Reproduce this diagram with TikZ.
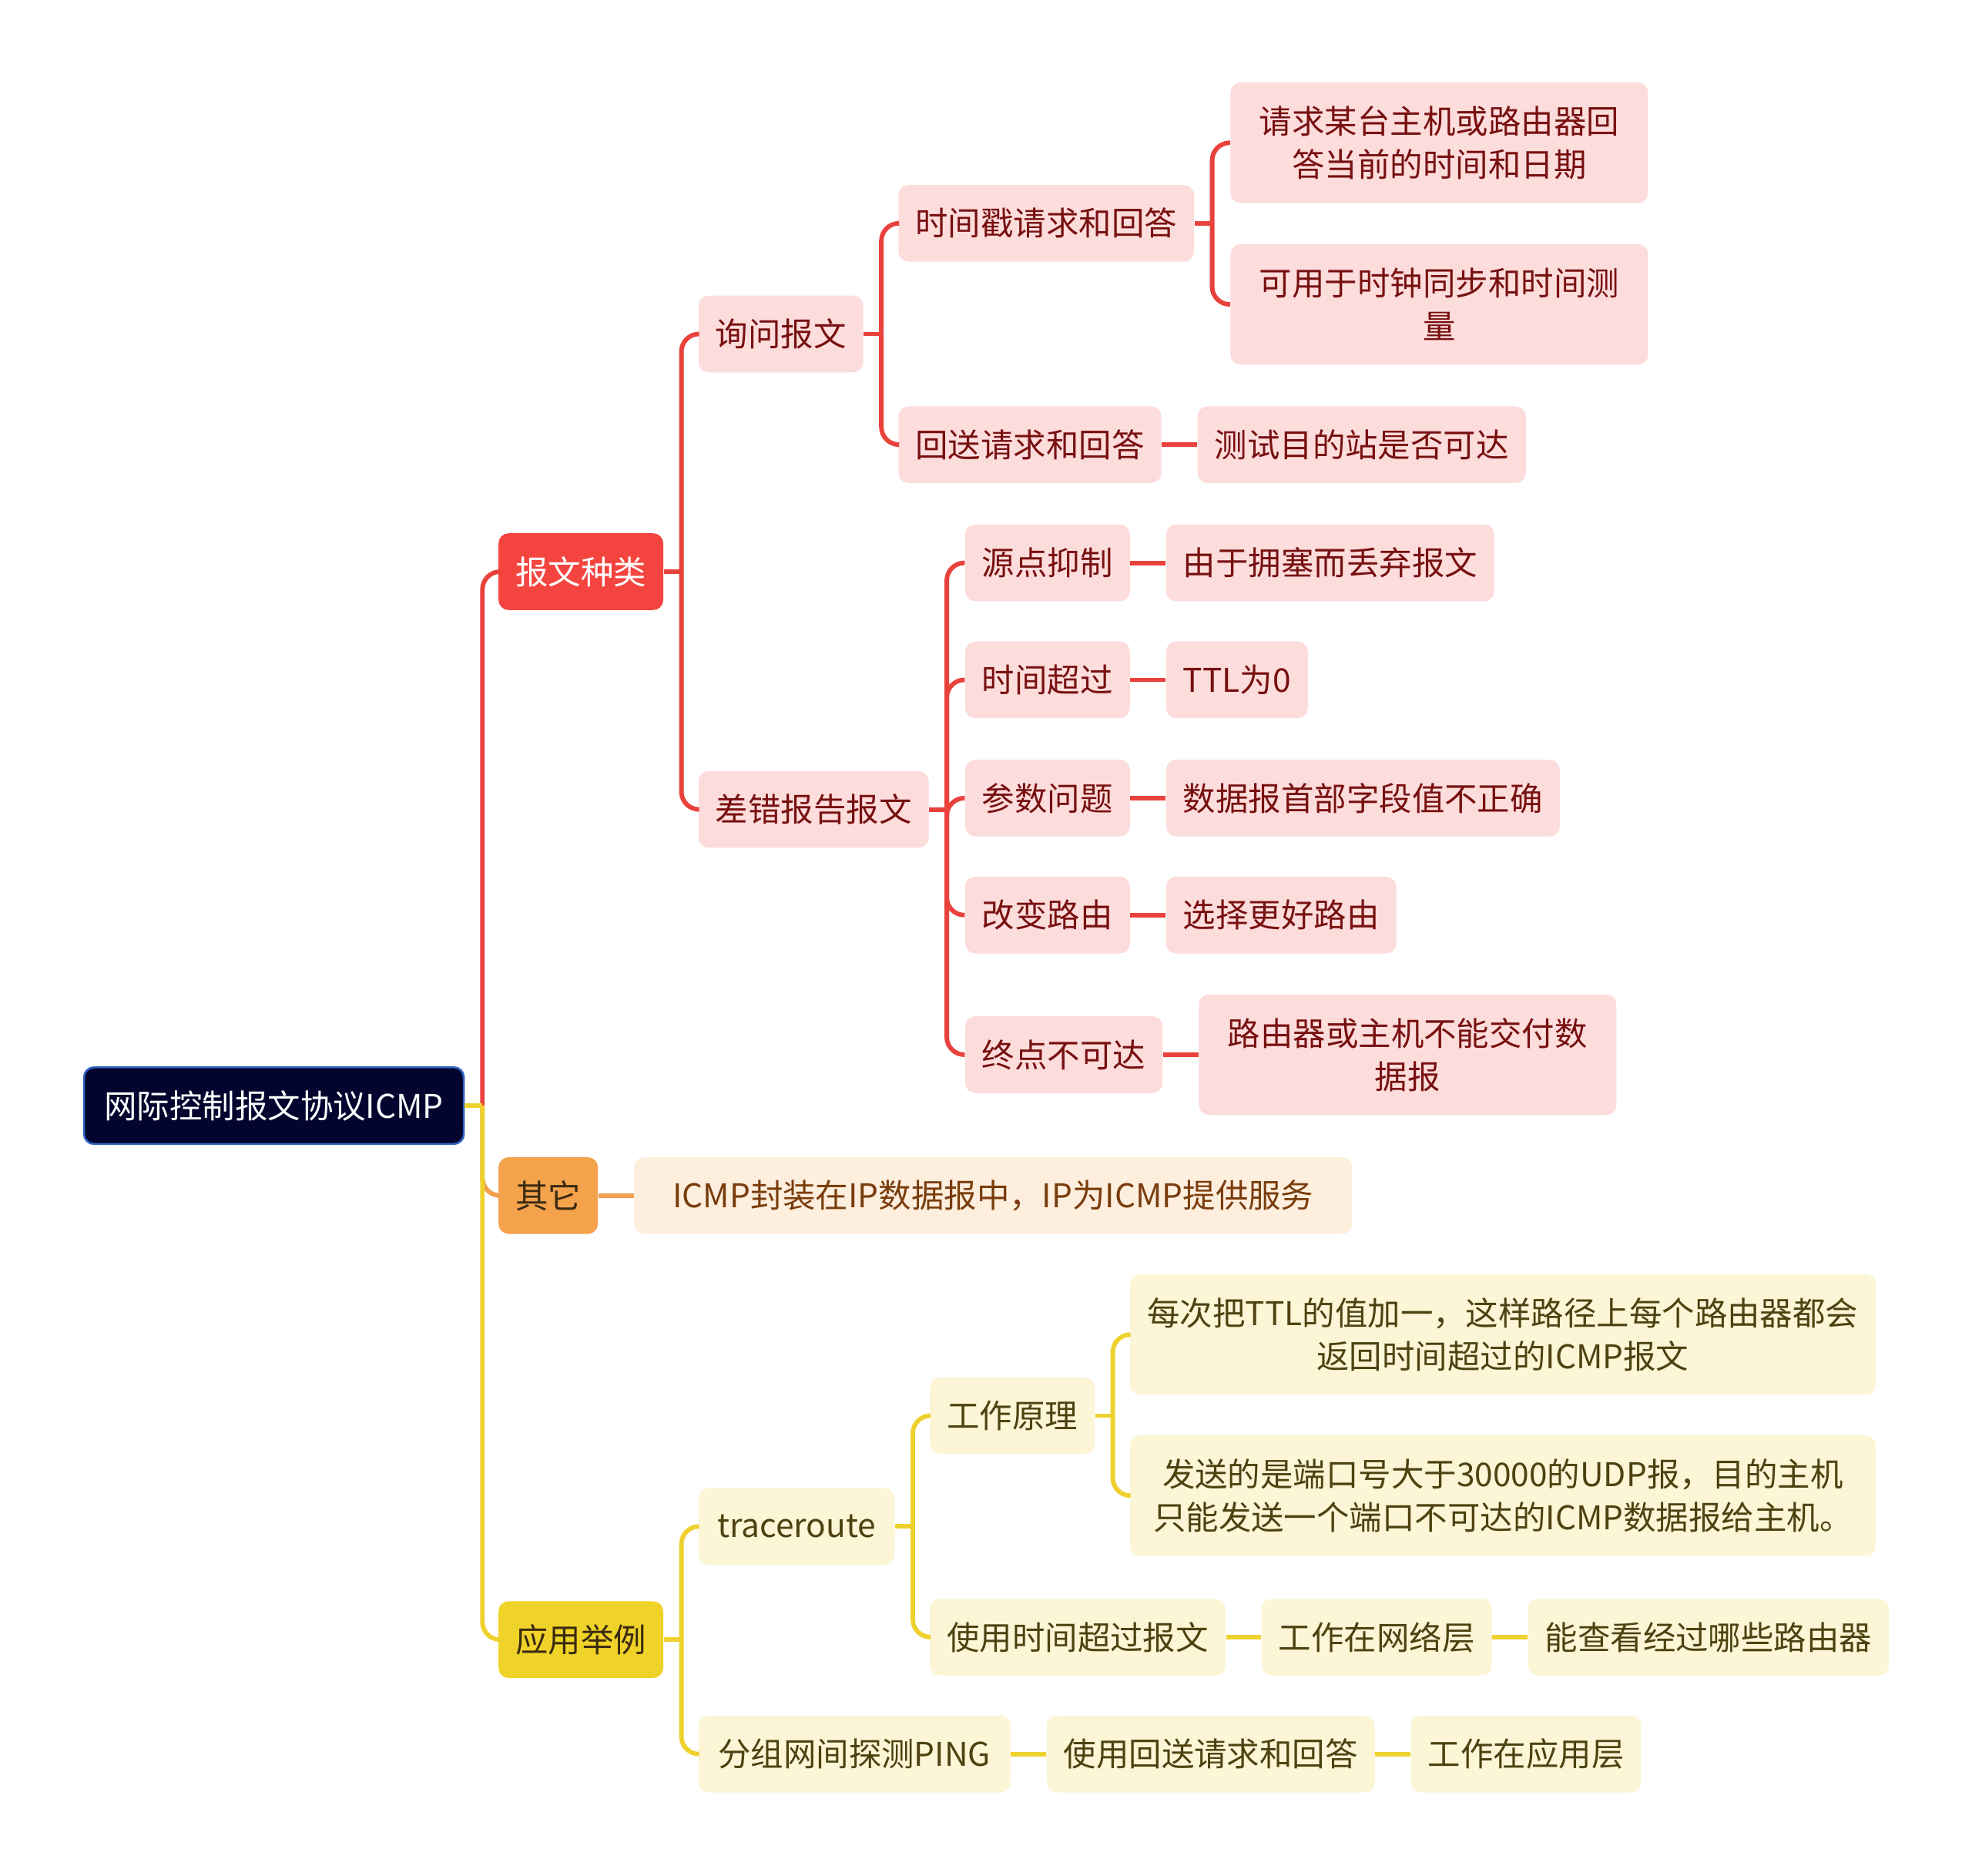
\documentclass[tikz,border=0pt]{standalone}
\usepackage{fontspec}
\setmainfont{Noto Sans CJK SC}
\usepackage{tikz}
\usetikzlibrary{positioning}
\definecolor{Navy}{HTML}{03052E}
\definecolor{NavyLine}{HTML}{2F62C0}
\definecolor{Red}{HTML}{F4443F}
\definecolor{RedLine}{HTML}{E9413C}
\definecolor{PaleRed}{HTML}{FDDCDC}
\definecolor{RedText}{HTML}{781010}
\definecolor{Orange}{HTML}{F4A24C}
\definecolor{OrangeLine}{HTML}{F2A04E}
\definecolor{PaleOrange}{HTML}{FDEEDD}
\definecolor{OrangeText}{HTML}{7A3C0C}
\definecolor{Yellow}{HTML}{F0D328}
\definecolor{YellowLine}{HTML}{EFD12E}
\definecolor{PaleYellow}{HTML}{FCF5D6}
\definecolor{YellowText}{HTML}{4D4210}
\definecolor{DarkText}{HTML}{3A2A10}
\tikzset{
  box/.style={rounded corners=4pt,minimum height=30.5pt,inner xsep=6.75pt,inner ysep=2pt,
    align=center,font=\fontsize{13pt}{17pt}\selectfont},
  rootbox/.style={box,fill=Navy,draw=NavyLine,line width=0.8pt,text=white},
  redmain/.style={box,fill=Red,text=white},
  redleaf/.style={box,fill=PaleRed,text=RedText},
  orangemain/.style={box,fill=Orange,text=DarkText},
  orangeleaf/.style={box,fill=PaleOrange,text=OrangeText},
  yellowmain/.style={box,fill=Yellow,text=DarkText},
  yellowleaf/.style={box,fill=PaleYellow,text=YellowText},
  tall/.style={minimum height=48pt},
  redlink/.style={draw=RedLine,line width=1.8pt,rounded corners=7pt},
  orangelink/.style={draw=OrangeLine,line width=1.8pt,rounded corners=7pt},
  yellowlink/.style={draw=YellowLine,line width=1.8pt,rounded corners=7pt}
}
\begin{document}
\begin{tikzpicture}[x=0.5pt,y=-0.5pt,node distance=14pt]
  \useasboundingbox (0,0) rectangle (1568,1491);
  % root and main branches
  \node[rootbox,anchor=west,minimum width=151pt] (root) at (66,879) {网际控制报文协议ICMP};
  \node[redmain,anchor=west] (baowen) at (396,454.5) {报文种类};
  \node[orangemain,anchor=west] (qita) at (396,950.5) {其它};
  \node[yellowmain,anchor=west] (yingyong) at (396,1303.5) {应用举例};

  % 报文种类
  \node[redleaf,anchor=west] (xunwen) at (555,265.5) {询问报文};
  \node[redleaf,anchor=west] (chacuo) at (555,643.5) {差错报告报文};
  \node[redleaf,anchor=west] (shijianchuo) at (714,177.5) {时间戳请求和回答};
  \node[redleaf,anchor=west] (huisong) at (714,353.5) {回送请求和回答};
  \node[redleaf,tall,anchor=west,minimum width=166pt] (qingqiu) at (978,113.5) {请求某台主机或路由器回\\答当前的时间和日期};
  \node[redleaf,tall,anchor=west,minimum width=166pt] (keyong) at (978,242) {可用于时钟同步和时间测\\量};
  \node[redleaf,right=of huisong] (ceshi) {测试目的站是否可达};
  \node[redleaf,anchor=west] (yuandian) at (767,447.5) {源点抑制};
  \node[redleaf,anchor=west] (chaoguo) at (767,540.5) {时间超过};
  \node[redleaf,anchor=west] (canshu) at (767,634.5) {参数问题};
  \node[redleaf,anchor=west] (gaibian) at (767,727.5) {改变路由};
  \node[redleaf,anchor=west] (zhongdian) at (767,838.5) {终点不可达};
  \node[redleaf,right=of yuandian] (yongse) {由于拥塞而丢弃报文};
  \node[redleaf,right=of chaoguo,minimum width=55.5pt] (ttl) {TTL为0};
  \node[redleaf,right=of canshu] (shoubu) {数据报首部字段值不正确};
  \node[redleaf,right=of gaibian] (genghao) {选择更好路由};
  \node[redleaf,tall,right=of zhongdian,minimum width=166pt] (jiaofu) {路由器或主机不能交付数\\据报};

  % 其它
  \node[orangeleaf,right=of qita,minimum width=285.5pt] (fengzhuang) {ICMP封装在IP数据报中，IP为ICMP提供服务};

  % 应用举例
  \node[yellowleaf,anchor=west,minimum width=78pt] (trace) at (555,1213.5) {traceroute};
  \node[yellowleaf,anchor=west,minimum width=124pt] (ping) at (555,1394.5) {分组网间探测PING};
  \node[yellowleaf,anchor=west] (yuanli) at (739,1125.5) {工作原理};
  \node[yellowleaf,anchor=west] (shiyong) at (739,1301.5) {使用时间超过报文};
  \node[yellowleaf,tall,anchor=west,minimum width=296.5pt,inner xsep=3pt] (meici) at (898,1061) {每次把TTL的值加一，这样路径上每个路由器都会\\返回时间超过的ICMP报文};
  \node[yellowleaf,tall,anchor=west,minimum width=296.5pt,inner xsep=3pt] (fasong) at (898,1189) {发送的是端口号大于30000的UDP报，目的主机\\只能发送一个端口不可达的ICMP数据报给主机。};
  \node[yellowleaf,right=of shiyong] (wangluo) {工作在网络层};
  \node[yellowleaf,right=of wangluo] (chakan) {能查看经过哪些路由器};
  \node[yellowleaf,right=of ping] (huida) {使用回送请求和回答};
  \node[yellowleaf,right=of huida] (yingyongceng) {工作在应用层};

  % connectors
  \draw[redlink] ([xshift=7pt]root.east) |- (baowen.west);
  \draw[orangelink] ([xshift=7pt]root.east) |- (qita.west);
  \draw[yellowlink] ([xshift=7pt]root.east) |- (yingyong.west);
  \draw[yellowlink] (root.east) -- ([xshift=7pt]root.east);

  \draw[redlink] (baowen.east) -- ([xshift=7pt]baowen.east);
  \draw[redlink] ([xshift=7pt]baowen.east) |- (xunwen.west);
  \draw[redlink] ([xshift=7pt]baowen.east) |- (chacuo.west);
  \draw[redlink] (xunwen.east) -- ([xshift=7pt]xunwen.east);
  \draw[redlink] ([xshift=7pt]xunwen.east) |- (shijianchuo.west);
  \draw[redlink] ([xshift=7pt]xunwen.east) |- (huisong.west);
  \draw[redlink] (shijianchuo.east) -- ([xshift=7pt]shijianchuo.east);
  \draw[redlink] ([xshift=7pt]shijianchuo.east) |- (qingqiu.west);
  \draw[redlink] ([xshift=7pt]shijianchuo.east) |- (keyong.west);
  \draw[redlink] (huisong) -- (ceshi);
  \draw[redlink] (chacuo.east) -- ([xshift=7pt]chacuo.east);
  \foreach \n in {yuandian,chaoguo,canshu,gaibian,zhongdian}
    \draw[redlink] ([xshift=7pt]chacuo.east) |- (\n.west);
  \draw[redlink] (yuandian) -- (yongse);
  \draw[redlink] (chaoguo) -- (ttl);
  \draw[redlink] (canshu) -- (shoubu);
  \draw[redlink] (gaibian) -- (genghao);
  \draw[redlink] (zhongdian) -- (jiaofu);

  \draw[orangelink] (qita) -- (fengzhuang);

  \draw[yellowlink] (yingyong.east) -- ([xshift=7pt]yingyong.east);
  \draw[yellowlink] ([xshift=7pt]yingyong.east) |- (trace.west);
  \draw[yellowlink] ([xshift=7pt]yingyong.east) |- (ping.west);
  \draw[yellowlink] (trace.east) -- ([xshift=7pt]trace.east);
  \draw[yellowlink] ([xshift=7pt]trace.east) |- (yuanli.west);
  \draw[yellowlink] ([xshift=7pt]trace.east) |- (shiyong.west);
  \draw[yellowlink] (yuanli.east) -- ([xshift=7pt]yuanli.east);
  \draw[yellowlink] ([xshift=7pt]yuanli.east) |- (meici.west);
  \draw[yellowlink] ([xshift=7pt]yuanli.east) |- (fasong.west);
  \draw[yellowlink] (shiyong) -- (wangluo);
  \draw[yellowlink] (wangluo) -- (chakan);
  \draw[yellowlink] (ping) -- (huida);
  \draw[yellowlink] (huida) -- (yingyongceng);
\end{tikzpicture}
\end{document}
